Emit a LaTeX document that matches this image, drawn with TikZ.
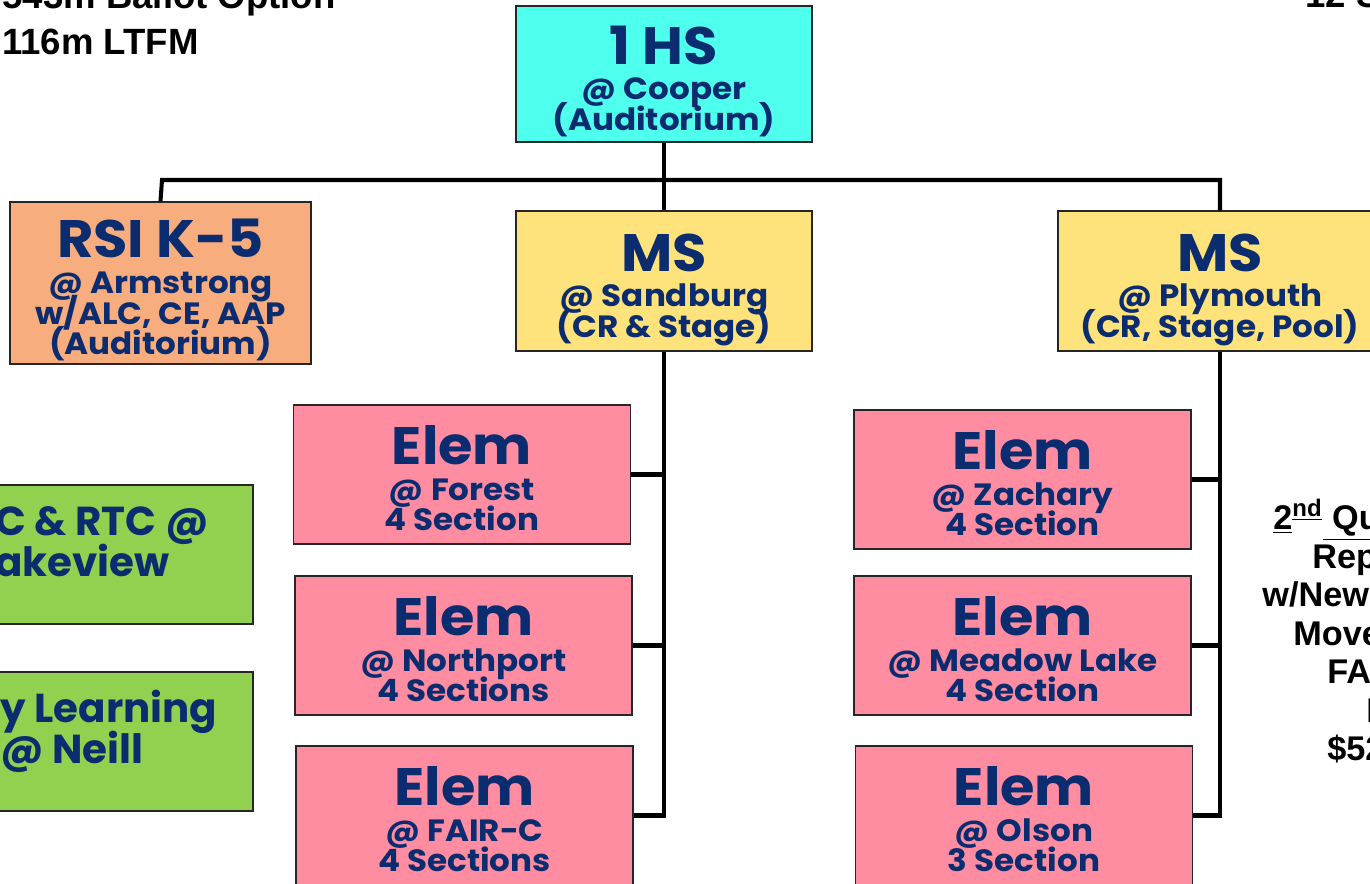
\documentclass[tikz,border=0pt]{standalone}
\usepackage{fontspec}
\newfontfamily\boxfont{Poppins}[FakeStretch=1.06]
\newfontfamily\greenfont{Poppins}
\newfontfamily\notefont{Liberation Sans}
\definecolor{navy}{HTML}{0B2D6F}
\definecolor{hscyan}{HTML}{4FFFEE}
\definecolor{rsiorange}{HTML}{F8AD7E}
\definecolor{msyellow}{HTML}{FEE27C}
\definecolor{elempink}{HTML}{FF8DA2}
\definecolor{lcgreen}{HTML}{92D050}
\newcommand{\boxtitle}[1]{{\fontsize{30}{32}\selectfont\rule{0pt}{26.7pt}#1}}

\tikzstyle{box} = [rectangle, draw=black!85, line width=0.8pt, text=navy, align=center, inner sep=0pt, text depth=0pt, font=\boxfont\bfseries\fontsize{17.5}{17.6}\selectfont]
\tikzstyle{elem} = [box, fill=elempink, minimum width=6.74cm, minimum height=2.78cm]
\tikzstyle{ms} = [box, fill=msyellow, minimum height=2.8cm]
\tikzstyle{green} = [box, fill=lcgreen, minimum width=6.72cm, minimum height=2.78cm]
\tikzstyle{greentext} = [text=navy, align=left, inner sep=0pt, anchor=west, font=\greenfont\bfseries\fontsize{23}{23.3}\selectfont]
\tikzstyle{note} = [inner sep=0pt, anchor=base west, font=\notefont\bfseries\fontsize{19.5}{23}\selectfont]
\tikzstyle{topnote} = [note, font=\notefont\bfseries\fontsize{20.8}{24}\selectfont]
\tikzstyle{link} = [line width=2.3pt]

\begin{document}
\lineskiplimit=-30pt
\begin{tikzpicture}[x=0.02cm, y=-0.02cm]
  \useasboundingbox (0,0) rectangle (1370,884);
  \clip (0,0) rectangle (1370,884);

  % top notes
  \node (Ballot) [topnote, anchor=base east] at (336,9) {543m Ballot Option};
  \node (LTFM) [topnote] at (2,55) {116m LTFM};
  \node (Top Right) [topnote] at (1305,8) {12 S};

  % schools
  \node (HS) [box, fill=hscyan, minimum width=5.92cm, minimum height=2.72cm] at (664,74) {\boxtitle{1 HS}\\[2.4pt] @ Cooper\\(Auditorium)};
  \node (RSI) [box, fill=rsiorange, minimum width=6.02cm, minimum height=3.24cm] at (160.5,283) {\boxtitle{RSI K-5}\\[2.4pt] @ Armstrong\\w/ALC, CE, AAP\\(Auditorium)};
  \node (Sandburg) [ms, minimum width=5.92cm] at (664,281) {\boxtitle{MS}\\[2.4pt] @ Sandburg\\(CR \& Stage)};
  \node (Plymouth) [ms, minimum width=6.48cm] at (1220,281) {\boxtitle{MS}\\[2.4pt] @ Plymouth\\(CR, Stage, Pool)};

  \node (Forest) [elem] at (462,474.5) {\boxtitle{Elem}\\[2.4pt] @ Forest\\4 Section};
  \node (Northport) [elem] at (463.5,645.5) {\boxtitle{Elem}\\[2.4pt] @ Northport\\4 Sections};
  \node (FairC) [elem] at (464.5,815.5) {\boxtitle{Elem}\\[2.4pt] @ FAIR-C\\4 Sections};
  \node (Zachary) [elem] at (1022.5,479.5) {\boxtitle{Elem}\\[2.4pt] @ Zachary\\4 Section};
  \node (Meadow Lake) [elem] at (1022.5,645.5) {\boxtitle{Elem}\\[2.4pt] @ Meadow Lake\\4 Section};
  \node (Olson) [elem] at (1024,815.5) {\boxtitle{Elem}\\[2.4pt] @ Olson\\3 Section};

  \node (Lakeview) [green] at (85,554.5) {};
  \node (Lakeview Text) [greentext] at (-5,542) {C \& RTC @\\akeview};
  \node (Neill) [green] at (85,741.5) {};
  \node (Neill Text) [greentext] at (0,731) {y Learning\\@ Neill};

  % right notes
  \node (Quarter) [note] at (1273,530) {\underline{2}\textsuperscript{\underline{nd}}\underline{ Qu}};
  \node (Rep) [note] at (1312,568.5) {Rep};
  \node (New) [note] at (1262,607) {w/New};
  \node (Move) [note] at (1293,645.5) {Move};
  \node (FA) [note] at (1327,684) {FA};
  \node (Bar) [note] at (1366,722.5) {I};
  \node (Cost) [note] at (1327,761) {\$52};

  % connectors
  \coordinate (busL) at (162,180);
  \coordinate (busR) at (1220,180);
  \draw [link] (RSI.north) -- (busL) -- (busR) -- (Plymouth.north);
  \draw [link] (HS.south) -- (HS.south |- busL);
  \draw [link] (Sandburg.north |- busL) -- (Sandburg.north);

  \draw [link] (Sandburg.south) |- (FairC.east);
  \draw [link] (Forest.east) -- (Forest.east -| Sandburg.south);
  \draw [link] (Northport.east) -- (Northport.east -| Sandburg.south);

  \draw [link] (Plymouth.south) |- (Olson.east);
  \draw [link] (Zachary.east) -- (Zachary.east -| Plymouth.south);
  \draw [link] (Meadow Lake.east) -- (Meadow Lake.east -| Plymouth.south);
\end{tikzpicture}
\end{document}
